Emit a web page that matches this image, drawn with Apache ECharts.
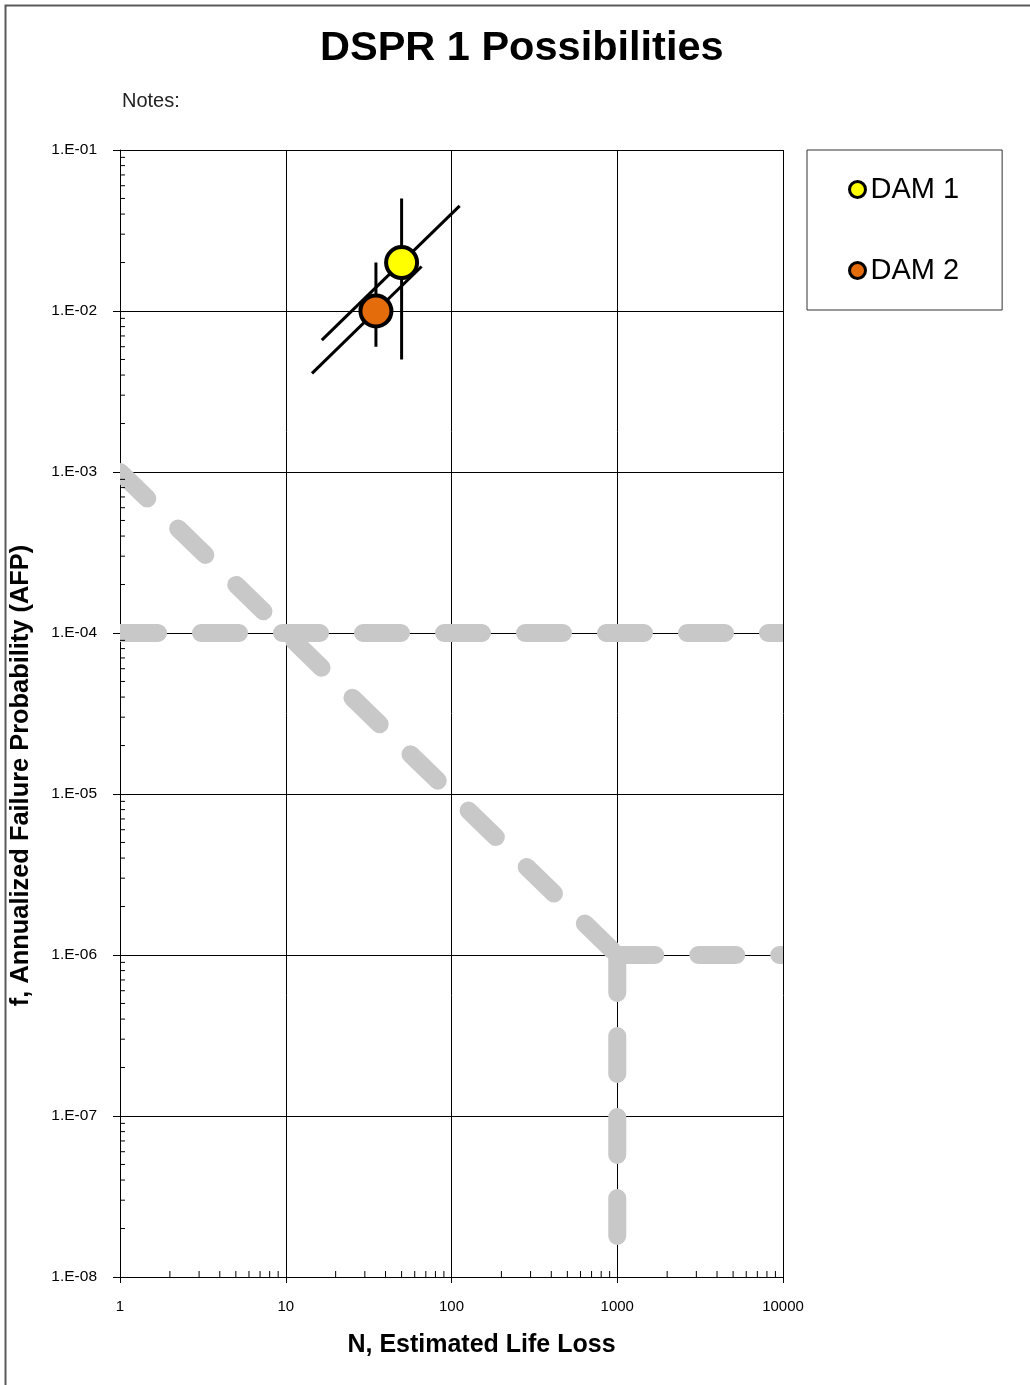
<!DOCTYPE html>
<html>
<head>
<meta charset="utf-8">
<title>DSPR 1 Possibilities</title>
<script src="https://cdn.jsdelivr.net/npm/echarts@6/dist/echarts.min.js"></script>
<style>
  html, body { margin: 0; padding: 0; background: #fff; }
  #chart { width: 1030px; height: 1385px; }
</style>
</head>
<body>
<div id="chart"></div>
<script>
// Dams: estimated life loss N and annualized failure probability f
const damNames = ['DAM 1', 'DAM 2'];
const damColors = ['#ffff00', '#e46c0a'];
const damN = [50, 35];
const damF = [0.02, 0.01];
// vertical uncertainty range on f
const damFLow = [0.005, 0.006];
const damFHigh = [0.05, 0.02];
// diagonal uncertainty range (N, f) end points
const diagStartN = [16.5, 14.4];
const diagStartF = [0.0066, 0.0041];
const diagEndN = [112, 66];
const diagEndF = [0.045, 0.0189];

// guideline segments [N, f] -> [N, f]
const guideHorizUpper = [[1, 1e-4], [10000, 1e-4]];
const guideDiagonal = [[1, 1e-3], [1000, 1e-6]];
const guideHorizLower = [[1000, 1e-6], [10000, 1e-6]];
const guideVertical = [[1000, 1e-6], [1000, 1e-8]];

// axis tick labels
const xTickLabels = ['1', '10', '100', '1000', '10000'];
const yTickLabels = ['1.E-08', '1.E-07', '1.E-06', '1.E-05', '1.E-04', '1.E-03', '1.E-02', '1.E-01'];

// minor tick positions 2..9 within each decade
const xMinorTicks = [];
for (let e = 0; e < 4; e++) for (let m = 2; m <= 9; m++) xMinorTicks.push(m * Math.pow(10, e));
const yMinorTicks = [];
for (let e = -8; e < -1; e++) for (let m = 2; m <= 9; m++) yMinorTicks.push(m * Math.pow(10, e));

const FONT = '"Liberation Sans", Arial, sans-serif';
const GUIDE_GRAY = '#c8c8c8';

function blackSegment(name, data) {
  return {
    name: name,
    type: 'line',
    data: data,
    symbol: 'none',
    silent: true,
    z: 3,
    lineStyle: { color: '#000', width: 3, cap: 'butt' }
  };
}

// wide dashed guide lines, clipped to the plot area
const guideSegments = [guideHorizUpper, guideDiagonal, guideHorizLower, guideVertical]
  .map(function (s) { return [s[0][0], s[0][1], s[1][0], s[1][1]]; });

const series = [{
  type: 'custom',
  silent: true,
  clip: true,
  z: 2,
  encode: { x: [0, 2], y: [1, 3] },
  data: guideSegments,
  renderItem: function (params, api) {
    const a = api.coord([api.value(0), api.value(1)]);
    const b = api.coord([api.value(2), api.value(3)]);
    return {
      type: 'line',
      shape: { x1: a[0], y1: a[1], x2: b[0], y2: b[1] },
      style: {
        stroke: GUIDE_GRAY,
        lineWidth: 18,
        lineDash: [38, 43],
        lineCap: 'round',
        fill: null
      }
    };
  }
}];

damNames.forEach(function (name, i) {
  series.push(blackSegment(name + ' range f', [[damN[i], damFLow[i]], [damN[i], damFHigh[i]]]));
  series.push(blackSegment(name + ' range', [[diagStartN[i], diagStartF[i]], [diagEndN[i], diagEndF[i]]]));
});

damNames.forEach(function (name, i) {
  series.push({
    name: name,
    type: 'scatter',
    symbol: 'circle',
    symbolSize: 31,
    z: 5,
    data: [[damN[i], damF[i]]],
    itemStyle: { color: damColors[i], borderColor: '#000', borderWidth: 4, opacity: 1 }
  });
});

// minor ticks on the N axis (pointing into the plot)
series.push({
  type: 'custom',
  silent: true,
  clip: false,
  z: 4,
  data: xMinorTicks,
  renderItem: function (params, api) {
    const p = api.coord([api.value(0), 1e-8]);
    return {
      type: 'line',
      shape: { x1: p[0], y1: p[1], x2: p[0], y2: p[1] - 6 },
      style: { stroke: '#000', lineWidth: 1 }
    };
  }
});
// minor ticks on the f axis
series.push({
  type: 'custom',
  silent: true,
  clip: false,
  z: 4,
  data: yMinorTicks.map(function (v) { return [1, v]; }),
  renderItem: function (params, api) {
    const p = api.coord([1, api.value(1)]);
    return {
      type: 'line',
      shape: { x1: p[0], y1: p[1], x2: p[0] + 5, y2: p[1] },
      style: { stroke: '#000', lineWidth: 1 }
    };
  }
});

const option = {
  animation: false,
  backgroundColor: '#fff',
  textStyle: { fontFamily: FONT },
  title: {
    text: 'DSPR 1 Possibilities',
    left: 315,
    top: 23,
    textStyle: { fontFamily: FONT, fontSize: 41.5, fontWeight: 'bold', color: '#000' }
  },
  graphic: [
    {
      type: 'rect',
      left: 3, top: 3,
      shape: { width: 1100, height: 1500 },
      style: { fill: 'none', stroke: '#5a5a5a', lineWidth: 2 },
      silent: true
    },
    {
      type: 'text',
      left: 122, top: 91,
      style: { text: 'Notes:', fontFamily: FONT, fontSize: 20, fill: '#222' },
      silent: true
    }
  ],
  legend: {
    data: damNames,
    orient: 'vertical',
    left: 807,
    top: 150,
    padding: [25, 43, 25, 41],
    itemGap: 52,
    itemWidth: 16,
    itemHeight: 16,
    itemTextGap: 7,
    borderColor: '#333',
    borderWidth: 1,
    icon: 'circle',
    itemStyle: { borderColor: '#000', borderWidth: 3 },
    textStyle: { fontFamily: FONT, fontSize: 29, color: '#000' }
  },
  grid: { left: 120, top: 150, right: 247, bottom: 108, containLabel: false },
  xAxis: {
    type: 'log',
    logBase: 10,
    min: 1,
    max: 10000,
    splitNumber: 4,
    name: 'N, Estimated Life Loss',
    nameLocation: 'middle',
    nameGap: 56,
    nameTextStyle: {
      fontFamily: FONT, fontSize: 25, fontWeight: 'bold', color: '#000',
      padding: [0, 0, 0, 60]
    },
    axisLine: { lineStyle: { color: '#000', width: 1 } },
    axisTick: { show: true, inside: false, length: 6, lineStyle: { color: '#000' } },
    splitLine: { show: true, lineStyle: { color: '#000', width: 1 } },
    axisLabel: {
      fontFamily: FONT, fontSize: 15, color: '#000', margin: 22,
      formatter: function (v) {
        const e = Math.round(Math.log10(v));
        return xTickLabels[e] !== undefined ? xTickLabels[e] : '';
      }
    }
  },
  yAxis: {
    type: 'log',
    logBase: 10,
    min: 1e-8,
    max: 1e-1,
    splitNumber: 7,
    name: 'f, Annualized Failure Probability (AFP)',
    nameLocation: 'middle',
    nameGap: 87,
    nameRotate: 90,
    nameTextStyle: {
      fontFamily: FONT, fontSize: 25.4, fontWeight: 'bold', color: '#000',
      padding: [0, 124, 0, 0]
    },
    axisLine: { lineStyle: { color: '#000', width: 1 } },
    axisTick: { show: true, inside: false, length: 7, lineStyle: { color: '#000' } },
    splitLine: { show: true, lineStyle: { color: '#000', width: 1 } },
    axisLabel: {
      fontFamily: FONT, fontSize: 15.5, color: '#000', margin: 23,
      padding: [0, 0, 7, 0],
      formatter: function (v) {
        const e = Math.round(Math.log10(v));
        return yTickLabels[e + 8] !== undefined ? yTickLabels[e + 8] : '';
      }
    }
  },
  series: series
};

const chart = echarts.init(document.getElementById('chart'), null, { renderer: 'canvas' });
chart.setOption(option);
</script>
</body>
</html>
